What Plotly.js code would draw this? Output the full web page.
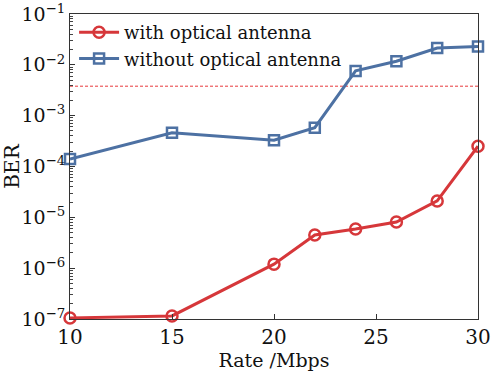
<!DOCTYPE html>
<html><head><meta charset="utf-8">
<script src="https://cdn.plot.ly/plotly-3.0.1.min.js"></script>
<style>html,body{margin:0;padding:0;background:#fff}#c{width:492px;height:375px}</style>
</head><body><div id="c"></div>
<script>
const rates = [10, 15, 20, 22, 24, 26, 28, 30];
const berWith = [1.05e-7, 1.15e-7, 1.2e-6, 4.5e-6, 5.9e-6, 8.1e-6, 2.1e-5, 2.5e-4];
const berWithout = [1.4e-4, 4.6e-4, 3.3e-4, 5.8e-4, 7.6e-3, 1.18e-2, 2.14e-2, 2.3e-2];
const fecLimit = 3.8e-3;
const yTickVals = [1e-7, 1e-6, 1e-5, 1e-4, 1e-3, 1e-2, 1e-1];
const yTickText = ['10<sup>−7</sup>','10<sup>−6</sup>','10<sup>−5</sup>','10<sup>−4</sup>','10<sup>−3</sup>','10<sup>−2</sup>','10<sup>−1</sup>'];
const xTickVals = [10, 15, 20, 25, 30];

// minor tick positions (2..9 within each decade)
const yMinorVals = [];
for (let e = -7; e < -1; e++) for (let m = 2; m <= 9; m++) yMinorVals.push(m * Math.pow(10, e));

const red = '#d6373a', blue = '#4d71a3';
const font = 'DejaVu Serif';
const data = [
  {x: [rates[0], rates[rates.length-1]], y: [fecLimit, fecLimit], mode: 'lines', showlegend: false,
   line: {color: '#e8393b', width: 1, dash: '3px,2px'}, hoverinfo: 'skip'},
  {x: rates, y: berWith, name: 'with optical antenna', mode: 'lines+markers', cliponaxis: false,
   line: {color: red, width: 3}, marker: {symbol: 'circle-open', size: 11, color: red, line: {width: 2.5, color: red}}},
  {x: rates, y: berWithout, name: 'without optical antenna', mode: 'lines+markers', cliponaxis: false,
   line: {color: blue, width: 3}, marker: {symbol: 'square-open', size: 10, color: blue, line: {width: 2.5, color: blue}}}
];
const layout = {
  width: 492, height: 375,
  margin: {l: 70, r: 14, t: 14, b: 56},
  paper_bgcolor: '#fff', plot_bgcolor: '#fff',
  font: {family: font, color: '#111', size: 19},
  showlegend: true,
  legend: {x: 0.01, y: 1.0, xanchor: 'left', yanchor: 'top', bgcolor: 'rgba(0,0,0,0)',
    font: {family: font, size: 18, color: '#111'}, tracegroupgap: 0, itemwidth: 40},
  xaxis: {range: [10, 30], tickvals: xTickVals, ticks: 'inside', ticklen: 5, tickcolor: '#333',
    showline: true, linecolor: '#333', linewidth: 1, mirror: true, showgrid: false, zeroline: false,
    tickfont: {family: font, size: 20},
    title: {text: 'Rate /Mbps', font: {family: font, size: 19}, standoff: 4}},
  yaxis: {type: 'log', range: [-7, -1], tickvals: yTickVals, ticktext: yTickText,
    ticks: 'inside', ticklen: 5, tickcolor: '#333',
    minor: {ticks: 'inside', ticklen: 3, tickcolor: '#444', tickmode: 'array', tickvals: yMinorVals, showgrid: false},
    showline: true, linecolor: '#333', linewidth: 1, mirror: true, showgrid: false, zeroline: false,
    tickfont: {family: font, size: 19},
    title: {text: 'BER', font: {family: font, size: 20}, standoff: 2}}
};
Plotly.newPlot('c', data, layout, {displayModeBar: false, staticPlot: true});
</script></body></html>
